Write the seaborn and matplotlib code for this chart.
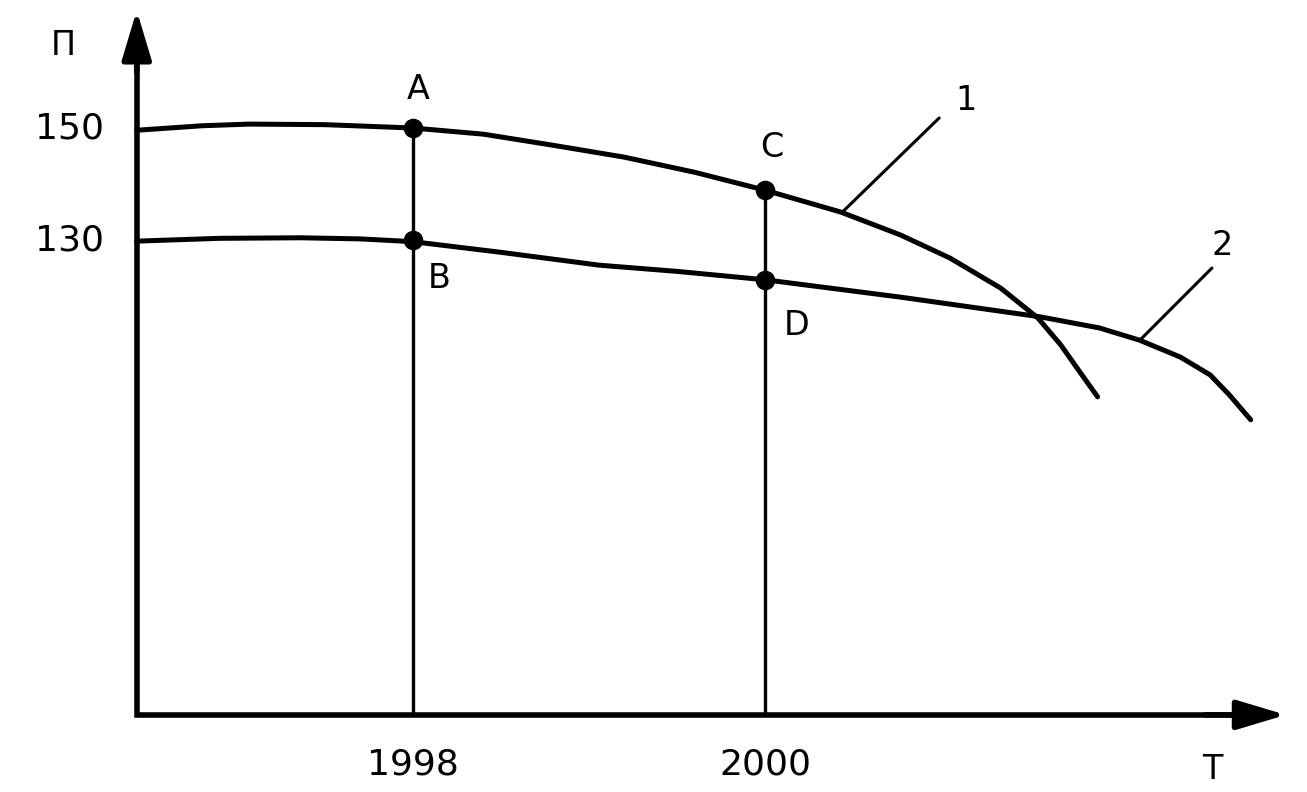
import pandas as pd
import numpy as np
import seaborn as sns
import matplotlib.pyplot as plt

# curve 1 (upper) and curve 2 (lower)
years_1 = [1996.43, 1996.80, 1997.07, 1997.50, 1998.00, 1998.40, 1998.78, 1999.20, 1999.60, 2000.00,
           2000.43, 2000.77, 2001.05, 2001.34, 2001.55, 2001.68, 2001.79, 2001.89]
vals_1 = [149.6, 150.4, 150.7, 150.6, 150.0, 148.9, 147.0, 144.8, 142.1, 138.9,
          135.0, 130.9, 126.8, 121.4, 116.1, 111.3, 106.4, 102.0]

years_2 = [1996.43, 1996.90, 1997.36, 1997.70, 1998.00, 1998.50, 1999.06, 1999.50, 2000.00,
           2000.77, 2001.56, 2001.90, 2002.13, 2002.36, 2002.53, 2002.64, 2002.76]
vals_2 = [129.8, 130.3, 130.4, 130.2, 129.7, 127.8, 125.5, 124.4, 122.9,
          119.8, 116.3, 114.3, 112.1, 109.1, 105.9, 102.3, 97.9]

# marked points
pt_names = ['A', 'B', 'C', 'D']
pt_years = [1998, 1998, 2000, 2000]
pt_vals = [150.0, 130.0, 138.9, 122.9]

x0, y0 = 1996.43, 45.2  # where the axes cross

curves = pd.concat([
    pd.DataFrame({'year': years_1, 'value': vals_1, 'curve': '1'}),
    pd.DataFrame({'year': years_2, 'value': vals_2, 'curve': '2'}),
])
points = pd.DataFrame({'year': pt_years, 'value': pt_vals, 'name': pt_names})

sns.set_style('white')
plt.rcParams['font.family'] = ['DejaVu Sans']
plt.rcParams['text.color'] = 'black'

fig = plt.figure(figsize=(13.07, 7.92), dpi=100)
ax = fig.add_axes([0, 0, 1, 1])

sns.lineplot(data=curves, x='year', y='value', units='curve', estimator=None,
             color='black', linewidth=3.6, sort=False, ax=ax)
for line in ax.lines:
    line.set_solid_capstyle('round')
    line.set_solid_joinstyle('round')

# drop lines from A and C to the time axis
ax.plot([1998, 1998], [y0, 150.0], color='black', lw=2.4)
ax.plot([2000, 2000], [y0, 138.9], color='black', lw=2.4)

sns.scatterplot(data=points, x='year', y='value', color='black', s=170,
                edgecolor='black', zorder=5, ax=ax)

# axes with arrows, one polyline for the corner
ax.plot([x0, x0, 2002.7], [165.0, y0, y0], color='black', lw=4,
        solid_joinstyle='miter', solid_capstyle='butt')
arrow = dict(arrowstyle='-|>,head_length=1.5,head_width=0.45', color='black', lw=4,
             mutation_scale=20, shrinkA=0, shrinkB=0)
ax.annotate('', xy=(x0, 171.0), xytext=(x0, 160.0), arrowprops=arrow)
ax.annotate('', xy=(2002.96, y0), xytext=(2002.5, y0), arrowprops=arrow)

fs = 24
ax.text(1996.01, 164.8, 'П', fontsize=fs, ha='center', va='center')
ax.text(1996.05, 150.0, '150', fontsize=fs + 2, ha='center', va='center')
ax.text(1996.05, 130.0, '130', fontsize=fs + 2, ha='center', va='center')
ax.text(1998.0, 36.3, '1998', fontsize=fs + 2, ha='center', va='center')
ax.text(2000.0, 36.3, '2000', fontsize=fs + 2, ha='center', va='center')
ax.text(2002.54, 35.4, 'Т', fontsize=fs, ha='center', va='center')

ax.text(1998.03, 156.8, 'A', fontsize=fs, ha='center', va='center')
ax.text(1998.15, 123.2, 'B', fontsize=fs, ha='center', va='center')
ax.text(2000.04, 146.6, 'C', fontsize=fs, ha='center', va='center')
ax.text(2000.18, 114.8, 'D', fontsize=fs, ha='center', va='center')

# curve number labels with leader lines
ax.plot([2000.44, 2000.99], [135.0, 151.8], color='black', lw=2.2)
ax.text(2001.14, 155.0, '1', fontsize=fs, ha='center', va='center')
ax.plot([2002.13, 2002.54], [112.1, 125.0], color='black', lw=2.2)
ax.text(2002.60, 129.1, '2', fontsize=fs, ha='center', va='center')

ax.set_xlim(1995.653, 2003.080)
ax.set_ylim(31.43, 172.86)
ax.set_axis_off()

plt.savefig('out.png', dpi=100)
